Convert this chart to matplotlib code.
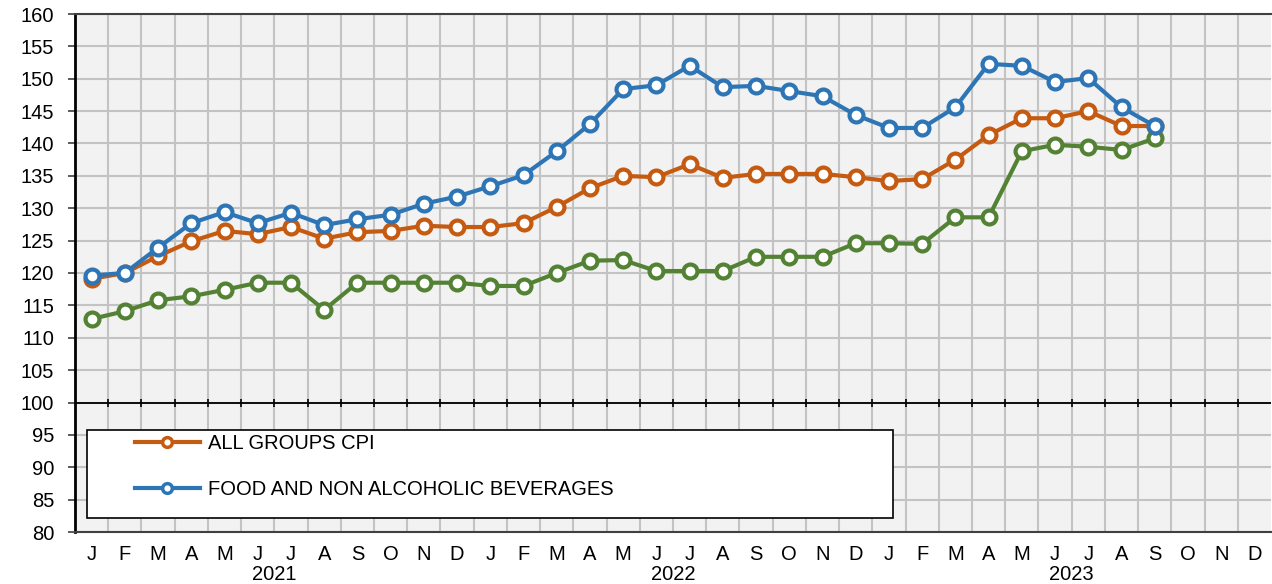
import numpy as np
import matplotlib
matplotlib.use("Agg")
import matplotlib.pyplot as plt
from matplotlib.patches import Rectangle
from matplotlib.transforms import blended_transform_factory

plt.rcParams['font.family'] = ['Liberation Sans', 'DejaVu Sans']

# Data (index values, Jan 2021 - Sep 2023)
month_letters = ["J", "F", "M", "A", "M", "J", "J", "A", "S", "O", "N", "D"] * 3
years = ["2021", "2022", "2023"]

all_groups_cpi = [119.1, 120.0, 122.6, 124.9, 126.5, 126.0, 127.1, 125.3, 126.3, 126.5, 127.3, 127.1,
                  127.1, 127.7, 130.2, 133.1, 135.0, 134.8, 136.8, 134.7, 135.3, 135.3, 135.3, 134.8,
                  134.2, 134.5, 137.5, 141.3, 143.9, 143.9, 145.0, 142.7, 142.7]
food_non_alc = [119.6, 120.0, 123.9, 127.7, 129.4, 127.7, 129.3, 127.4, 128.3, 129.0, 130.7, 131.8,
                133.4, 135.1, 138.8, 143.0, 148.4, 149.0, 152.0, 148.7, 148.9, 148.1, 147.3, 144.4,
                142.4, 142.4, 145.6, 152.3, 152.0, 149.5, 150.1, 145.6, 142.7]
third_series = [112.9, 114.1, 115.8, 116.4, 117.4, 118.5, 118.5, 114.3, 118.5, 118.5, 118.5, 118.5,
                118.0, 118.0, 120.0, 121.9, 122.0, 120.3, 120.3, 120.3, 122.5, 122.5, 122.5, 124.6,
                124.6, 124.5, 128.6, 128.6, 138.8, 139.8, 139.5, 139.0, 140.8]

orange = "#C55A11"
blue = "#2E75B6"
green = "#548235"
fs = 14.5

fig = plt.figure(figsize=(12.72, 5.84), dpi=100)
ax = fig.add_axes([75 / 1272, 52 / 584, 1196 / 1272, 518 / 584])
ax.set_facecolor("#F2F2F2")

n_months = len(month_letters)
x = np.arange(len(all_groups_cpi)) + 0.5

style = dict(lw=3, marker="o", ms=10, mew=3, mfc="white")
l_green, = ax.plot(x, third_series, color=green, **style)
l_orange, = ax.plot(x, all_groups_cpi, color=orange, **style)
l_blue, = ax.plot(x, food_non_alc, color=blue, **style)

ax.set_xlim(0, n_months)
ax.set_ylim(80, 160)
ax.set_yticks(np.arange(80, 161, 5))

# grid at month boundaries, labels at month centres
bounds = np.arange(1, n_months)
ax.set_xticks(bounds)
ax.set_xticklabels([])
ax.set_xticks(np.arange(n_months) + 0.5, minor=True)
ax.set_xticklabels(month_letters, minor=True)
ax.tick_params(axis="x", which="both", length=0, labelsize=fs, pad=9)
ax.tick_params(axis="y", length=5, width=1.2, labelsize=fs, pad=10, color="#404040")
ax.grid(True, which="major", color="#C3C3C3", lw=1.5)
ax.set_axisbelow(True)

# axis line at 100 with tick marks
ax.axhline(100, color="black", lw=1.3, zorder=1.5)
ax.plot(bounds, [100] * len(bounds), ls="none", marker="|", ms=6, mew=1.2, color="black", zorder=1.5)

for s in ax.spines.values():
    s.set_color("#404040")
    s.set_linewidth(1.5)
ax.spines["left"].set_color("black")
ax.spines["left"].set_linewidth(2)
ax.spines["right"].set_visible(False)

trans = blended_transform_factory(ax.transData, ax.transAxes)
for i, yr in enumerate(years):
    ax.text(6 + 12 * i, -0.082, yr, transform=trans, ha="center", va="center", fontsize=fs)

# legend box
ax.add_patch(Rectangle((0.010, 0.027), 0.674, 0.170, transform=ax.transAxes,
                       facecolor="white", edgecolor="black", lw=1.2, zorder=3))
leg = ax.legend([l_orange, l_blue], ["ALL GROUPS CPI", "FOOD AND NON ALCOHOLIC BEVERAGES"],
                loc="upper left", bbox_to_anchor=(0.047, 0.197), frameon=False,
                fontsize=fs, handlelength=3.2, handletextpad=0.4, labelspacing=1.36,
                borderaxespad=0, borderpad=0.2)
leg.set_zorder(4)
for h in leg.legend_handles:
    h.set_markersize(7)
    h.set_markeredgewidth(2.5)

fig.savefig("out.png", dpi=100)
